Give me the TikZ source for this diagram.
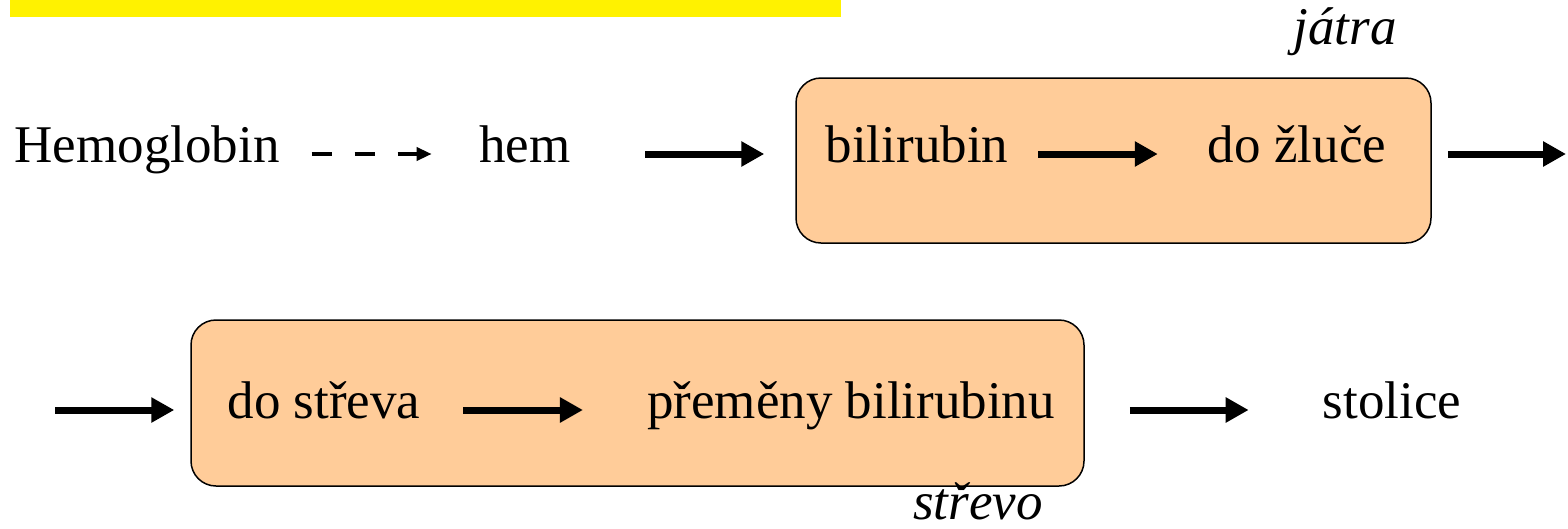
\documentclass[tikz,border=0pt]{standalone}
\usepackage{fontspec}
\setmainfont{Liberation Serif}
\usetikzlibrary{arrows.meta}
\definecolor{peach}{RGB}{255,204,153}

\tikzset{
  lbl/.style={inner sep=0pt, font=\fontsize{53}{60}\selectfont, text height=36pt, text depth=20pt},
  organ/.style={lbl, font=\fontsize{53}{60}\selectfont\itshape},
  organbox/.style={draw, line width=1.5pt, fill=peach, rounded corners=25pt, inner sep=0pt},
  arr/.style={line width=7pt, -{Triangle[length=23pt,width=24pt]}},
  dasharr/.style={line width=3.5pt, dash pattern=on 20pt off 23pt, -{Triangle[length=15pt,width=13pt]}}
}

\begin{document}
\begin{tikzpicture}[x=1pt, y=-1pt]
  \useasboundingbox (0,0) rectangle (1568,528);
  \fill[yellow] (10,0) rectangle (841,17);

  % boxes
  \node[organbox, minimum width=635pt, minimum height=165pt] (jatra) at (1113.5,160.5) {};
  \node[organbox, minimum width=893pt, minimum height=166pt] (strevo) at (637.5,403) {};
  \node[organ] (jatral) at (1345,36) {játra};
  \node[organ] (strevol) at (978,511) {střevo};

  % first row
  \node[lbl] (hemo) at (147,154) {Hemoglobin};
  \node[lbl] (hem) at (525,154) {hem};
  \node[lbl] (bili) at (917,154) {bilirubin};
  \node[lbl] (zluc) at (1297,154) {do žluče};
  \coordinate (out) at (1566,154);

  % second row
  \coordinate (in) at (55,410);
  \node[lbl] (strv) at (324,410) {do střeva};
  \node[lbl] (prem) at (851,410) {přeměny bilirubinu};
  \node[lbl] (stol) at (1392,410) {stolice};

  \draw[dasharr, shorten <=32pt, shorten >=47.5pt] (hemo) -- (hem);
  \draw[arr, shorten <=74.5pt, shorten >=31pt] (hem) -- (hem -| jatra.west);
  \draw[arr, shorten <=30pt, shorten >=50pt] (bili) -- (zluc);
  \draw[arr, shorten <=16pt] (jatra.east |- zluc) -- (out);
  \draw[arr, shorten >=16pt] (in) -- (in -| strevo.west);
  \draw[arr, shorten <=42.6pt, shorten >=64pt] (strv) -- (prem);
  \draw[arr, shorten <=45pt, shorten >=74pt] (strevo.east |- prem) -- (stol);
\end{tikzpicture}
\end{document}
